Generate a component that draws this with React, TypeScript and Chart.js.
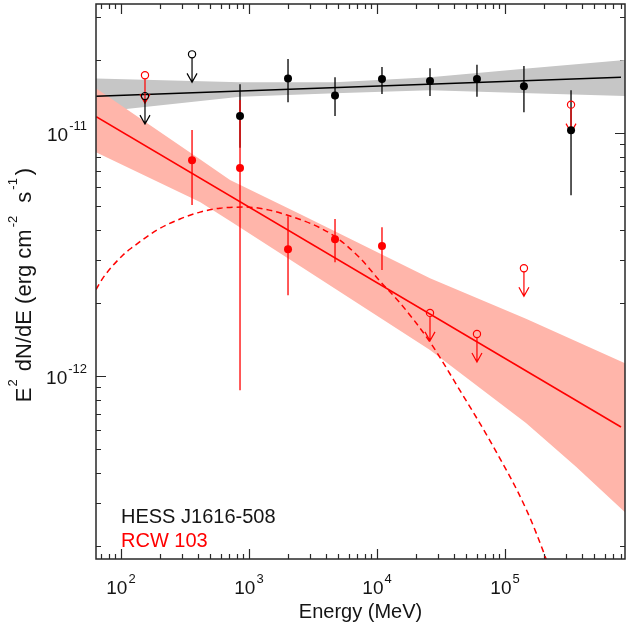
import { useEffect, useRef } from "react";
import { Chart, registerables } from "chart.js";

Chart.register(...registerables);

const FONT = '"Liberation Sans", Arial, Helvetica, sans-serif';
const RED = "rgb(255,0,0)";
const BLACK = "rgb(0,0,0)";
const PINK = "rgb(255,181,170)";
const GRAY = "rgb(198,198,198)";
const AXIS = "rgb(40,40,40)";

// Axis ranges (MeV, erg cm^-2 s^-1)
const xMin = 63.8;
const xMax = 8.66e5;
const yMin = 1.766e-13;
const yMax = 3.4e-11;
const xTickExps = [2, 3, 4, 5];
const yTickExps = [-12, -11];

// HESS J1616-508 (black) flux points
const blackE = [851, 2018, 4700, 10940, 25950, 60400, 140600, 328000];
const blackY = [1.175e-11, 1.68e-11, 1.43e-11, 1.67e-11, 1.64e-11, 1.67e-11, 1.56e-11, 1.028e-11];
const blackLo = [8.7e-12, 1.34e-11, 1.175e-11, 1.45e-11, 1.42e-11, 1.41e-11, 1.22e-11, 5.55e-12];
const blackHi = [1.59e-11, 2.02e-11, 1.7e-11, 1.87e-11, 1.85e-11, 1.91e-11, 1.89e-11, 1.5e-11];
const blackUlE = [154, 359];
const blackUlY = [1.42e-11, 2.11e-11];

// RCW 103 (red) flux points
const redE = [359, 851, 2018, 4700, 10940];
const redY = [7.74e-12, 7.18e-12, 3.33e-12, 3.66e-12, 3.43e-12];
const redLo = [5.06e-12, 8.75e-13, 2.15e-12, 2.94e-12, 2.73e-12];
const redHi = [1.03e-11, 1.37e-11, 4.55e-12, 4.43e-12, 4.1e-12];
const redUlE = [154, 25950, 60400, 140600, 328000];
const redUlY = [1.73e-11, 1.82e-12, 1.49e-12, 2.78e-12, 1.31e-11];

// Best-fit lines
const blackLineE = [64, 806000];
const blackLineY = [1.419e-11, 1.698e-11];
const redLineE = [64, 806000];
const redLineY = [1.169e-11, 6.17e-13];

// Uncertainty bands
const grayBandE = [63.8, 851, 4700, 25950, 156700, 866000];
const grayBandHi = [1.68e-11, 1.62e-11, 1.62e-11, 1.7e-11, 1.85e-11, 2.0e-11];
const grayBandLo = [1.22e-11, 1.41e-11, 1.46e-11, 1.5e-11, 1.46e-11, 1.42e-11];
const pinkBandE = [63.8, 414, 711, 2500, 25950, 145900, 359000, 866000];
const pinkBandHi = [1.53e-11, 7.81e-12, 6.41e-12, 4.65e-12, 2.53e-12, 1.72e-12, 1.39e-12, 1.13e-12];
const pinkBandLo = [8.35e-12, 5.2e-12, 4.35e-12, 2.84e-12, 1.28e-12, 6.41e-13, 4.23e-13, 2.75e-13];

// Dashed model curve
const dashE = [63.8, 72.2, 103.7, 124, 191, 289, 414, 593, 931, 1982, 4530, 7360, 10540, 15130, 25950, 43700, 80600, 145900, 209000, 250000];
const dashY = [2.27e-12, 2.53e-12, 3.15e-12, 3.4e-12, 3.99e-12, 4.43e-12, 4.73e-12, 4.91e-12, 4.96e-12, 4.6e-12, 3.8e-12, 3.06e-12, 2.46e-12, 2.0e-12, 1.38e-12, 8.86e-13, 5.15e-13, 2.84e-13, 1.77e-13, 1.33e-13];

const legendNames = ["HESS J1616-508", "RCW 103"];

const pts = (xs: number[], ys: number[]) => xs.map((x, i) => ({ x, y: ys[i] }));

function drawPow(
  ctx: CanvasRenderingContext2D,
  x: number,
  y: number,
  base: string,
  exp: string,
  align: "center" | "right",
  bSize: number,
  sSize: number,
  rise: number
) {
  ctx.font = `${bSize}px ${FONT}`;
  const wb = ctx.measureText(base).width;
  ctx.font = `${sSize}px ${FONT}`;
  const ws = ctx.measureText(exp).width;
  const total = wb + 1 + ws;
  const x0 = align === "center" ? x - total / 2 : x - total;
  ctx.textAlign = "left";
  ctx.textBaseline = "alphabetic";
  ctx.font = `${bSize}px ${FONT}`;
  ctx.fillText(base, x0, y);
  ctx.font = `${sSize}px ${FONT}`;
  ctx.fillText(exp, x0 + wb + 1, y - rise);
}

const framePlugin = {
  id: "frame",
  beforeDatasetsDraw(chart: any) {
    const { ctx, chartArea: a, scales } = chart;
    const xs = scales.x;
    const ys = scales.y;
    ctx.save();
    ctx.strokeStyle = AXIS;
    ctx.lineWidth = 1.2;
    ctx.beginPath();
    for (let d = Math.floor(Math.log10(xMin)); d <= Math.ceil(Math.log10(xMax)); d++) {
      for (let m = 1; m <= 9; m++) {
        const v = m * Math.pow(10, d);
        if (v < xMin || v > xMax) continue;
        const px = Math.round(xs.getPixelForValue(v)) + 0.5;
        const len = m === 1 ? 10 : 5;
        ctx.moveTo(px, a.bottom);
        ctx.lineTo(px, a.bottom - len);
        ctx.moveTo(px, a.top);
        ctx.lineTo(px, a.top + len);
      }
    }
    for (let d = Math.floor(Math.log10(yMin)); d <= Math.ceil(Math.log10(yMax)); d++) {
      for (let m = 1; m <= 9; m++) {
        const v = m * Math.pow(10, d);
        if (v < yMin || v > yMax) continue;
        const py = Math.round(ys.getPixelForValue(v)) + 0.5;
        const len = m === 1 ? 10 : 5;
        ctx.moveTo(a.left, py);
        ctx.lineTo(a.left + len, py);
        ctx.moveTo(a.right, py);
        ctx.lineTo(a.right - len, py);
      }
    }
    ctx.stroke();
    ctx.restore();
  },
  beforeDatasetDraw(chart: any, args: any) {
    if (args.index !== 3) return;
    const { ctx, scales } = chart;
    const xs = scales.x;
    const ys = scales.y;
    ctx.save();
    const bars = (E: number[], lo: number[], hi: number[], col: string) => {
      ctx.strokeStyle = col;
      ctx.lineWidth = 1.3;
      ctx.beginPath();
      E.forEach((e, i) => {
        const px = xs.getPixelForValue(e);
        ctx.moveTo(px, ys.getPixelForValue(hi[i]));
        ctx.lineTo(px, ys.getPixelForValue(lo[i]));
      });
      ctx.stroke();
    };
    const arrows = (E: number[], Y: number[], col: string) => {
      ctx.strokeStyle = col;
      ctx.lineWidth = 1.2;
      ctx.beginPath();
      E.forEach((e, i) => {
        const px = xs.getPixelForValue(e);
        const py = ys.getPixelForValue(Y[i]);
        const tip = py + 28;
        ctx.moveTo(px, py + 3.5);
        ctx.lineTo(px, tip);
        ctx.moveTo(px - 5, tip - 9);
        ctx.lineTo(px, tip);
        ctx.lineTo(px + 5, tip - 9);
      });
      ctx.stroke();
    };
    bars(blackE, blackLo, blackHi, BLACK);
    bars(redE, redLo, redHi, RED);
    arrows(redUlE, redUlY, RED);
    arrows(blackUlE, blackUlY, BLACK);
    ctx.restore();
  },
  afterDatasetsDraw(chart: any) {
    const { ctx, chartArea: a, scales } = chart;
    const xs = scales.x;
    const ys = scales.y;
    ctx.save();
    // frame
    ctx.strokeStyle = AXIS;
    ctx.lineWidth = 1.5;
    ctx.strokeRect(a.left, a.top, a.right - a.left, a.bottom - a.top);

    ctx.fillStyle = "rgb(20,20,20)";
    // x tick labels
    xTickExps.forEach((e) => {
      const px = xs.getPixelForValue(Math.pow(10, e));
      drawPow(ctx, px, a.bottom + 35, "10", String(e), "center", 19, 13, 11);
    });
    // y tick labels
    yTickExps.forEach((e) => {
      const py = ys.getPixelForValue(Math.pow(10, e));
      drawPow(ctx, a.left - 9, py + 8, "10", String(e), "right", 19, 13, 11);
    });
    // x title
    ctx.font = `20px ${FONT}`;
    ctx.textAlign = "center";
    ctx.textBaseline = "alphabetic";
    ctx.fillText("Energy (MeV)", (a.left + a.right) / 2, 618);
    ctx.restore();

    // y title (rotated): [text, isSuperscript, gapBefore, gapAfter]
    ctx.save();
    const parts: [string, boolean, number, number][] = [
      ["E", false, 0, 0],
      ["2", true, 1, 2],
      [" dN/dE (erg cm", false, 0, 0],
      ["-2", true, 2, 3],
      [" s", false, 4, 0],
      ["-1", true, 2, 3],
      [")", false, 0, 0],
    ];
    const MAIN = 22;
    const SUP = 13;
    ctx.fillStyle = "rgb(20,20,20)";
    ctx.translate(31, 285);
    ctx.rotate(-Math.PI / 2);
    let total = 0;
    const widths = parts.map(([t, sup, g0, g1]) => {
      ctx.font = `${sup ? SUP : MAIN}px ${FONT}`;
      const w = ctx.measureText(t).width + g0 + g1;
      total += w;
      return w;
    });
    let cx = -total / 2;
    ctx.textAlign = "left";
    ctx.textBaseline = "alphabetic";
    parts.forEach(([t, sup, g0], i) => {
      ctx.font = `${sup ? SUP : MAIN}px ${FONT}`;
      ctx.fillText(t, cx + g0, sup ? -14 : 0);
      cx += widths[i];
    });
    ctx.restore();

    // legend
    ctx.save();
    ctx.font = `20px ${FONT}`;
    ctx.textAlign = "left";
    ctx.textBaseline = "alphabetic";
    ctx.fillStyle = "rgb(20,20,20)";
    ctx.fillText(legendNames[0], 121, 523);
    ctx.fillStyle = RED;
    ctx.fillText(legendNames[1], 121, 547);
    ctx.restore();
  },
};

export default function App() {
  const ref = useRef<HTMLCanvasElement | null>(null);
  useEffect(() => {
    if (!ref.current) return;
    const lineBase = { showLine: true, pointRadius: 0, fill: false, tension: 0 };
    const chart = new Chart(ref.current, {
      type: "line",
      data: {
        datasets: [
          {
            data: pts(redE, redY),
            showLine: false,
            pointRadius: 4,
            pointBackgroundColor: RED,
            pointBorderColor: RED,
            pointBorderWidth: 0,
          },
          {
            data: pts(blackE, blackY),
            showLine: false,
            pointRadius: 4,
            pointBackgroundColor: BLACK,
            pointBorderColor: BLACK,
            pointBorderWidth: 0,
          },
          {
            data: pts(redUlE, redUlY),
            showLine: false,
            pointRadius: 3.6,
            pointBackgroundColor: "rgba(0,0,0,0)",
            pointBorderColor: RED,
            pointBorderWidth: 1.2,
          },
          {
            data: pts(blackUlE, blackUlY),
            showLine: false,
            pointRadius: 3.6,
            pointBackgroundColor: "rgba(0,0,0,0)",
            pointBorderColor: BLACK,
            pointBorderWidth: 1.2,
          },
          {
            ...lineBase,
            data: pts(dashE, dashY),
            borderColor: RED,
            borderWidth: 1.5,
            borderDash: [6, 4],
            cubicInterpolationMode: "monotone",
          },
          { ...lineBase, data: pts(redLineE, redLineY), borderColor: RED, borderWidth: 1.6 },
          { ...lineBase, data: pts(blackLineE, blackLineY), borderColor: BLACK, borderWidth: 1.6 },
          {
            ...lineBase,
            data: pts(pinkBandE, pinkBandHi),
            borderColor: "rgba(0,0,0,0)",
            borderWidth: 0,
            fill: "+1",
            backgroundColor: PINK,
          },
          { ...lineBase, data: pts(pinkBandE, pinkBandLo), borderColor: "rgba(0,0,0,0)", borderWidth: 0 },
          {
            ...lineBase,
            data: pts(grayBandE, grayBandHi),
            borderColor: "rgba(0,0,0,0)",
            borderWidth: 0,
            fill: "+1",
            backgroundColor: GRAY,
          },
          { ...lineBase, data: pts(grayBandE, grayBandLo), borderColor: "rgba(0,0,0,0)", borderWidth: 0 },
        ] as any,
      },
      options: {
        responsive: false,
        animation: false,
        events: [],
        layout: { autoPadding: false, padding: { left: 96, top: 4, right: 1, bottom: 76 } },
        plugins: { legend: { display: false }, tooltip: { enabled: false } },
        scales: {
          x: { type: "logarithmic", min: xMin, max: xMax, bounds: "data", display: false },
          y: { type: "logarithmic", min: yMin, max: yMax, bounds: "data", display: false },
        },
      } as any,
      plugins: [framePlugin],
    });
    return () => chart.destroy();
  }, []);
  return (
    <div style={{ position: "fixed", left: 0, top: 0, width: 626, height: 635, background: "#fff" }}>
      <canvas ref={ref} width={626} height={635} style={{ width: 626, height: 635, display: "block" }} />
    </div>
  );
}
